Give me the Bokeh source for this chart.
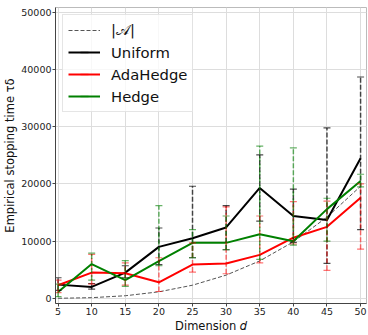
import math
from bokeh.plotting import figure
from bokeh.models import (ColumnDataSource, Whisker, TeeHead, Legend, LegendItem,
                          Range1d, FixedTicker, NumeralTickFormatter)
from bokeh.embed import file_html
from bokeh.resources import INLINE

# ---------------- data ----------------
dims = [5, 10, 15, 20, 25, 30, 35, 40, 45, 50]
card_A = [10, 120, 455, 1140, 2300, 4060, 6545, 9880, 14190, 19600]

uniform_mean = [2400, 2000, 4500, 9000, 10500, 12400, 19300, 14400, 13700, 24500]
uniform_lo   = [1400, 1600, 3600, 5900, 7100, 8500, 13500, 9800, 6100, 12000]
uniform_hi   = [3600, 2600, 5700, 12300, 19600, 16200, 25100, 19100, 29800, 38700]

adahedge_mean = [2300, 4500, 4400, 2800, 5900, 6100, 7600, 10600, 12500, 17600]
adahedge_lo   = [1000, 2500, 2300, 1200, 4600, 4300, 6200, 9500, 4900, 8600]
adahedge_hi   = [3200, 7700, 6200, 7100, 9700, 16000, 14400, 16900, 17000, 20000]

hedge_mean = [1100, 6000, 3200, 6500, 9700, 9700, 11200, 10000, 15600, 20500]
hedge_lo   = [300, 3200, 2100, 5700, 7100, 8500, 6800, 9300, 10000, 19500]
hedge_hi   = [2500, 7900, 6600, 16200, 12000, 14400, 26600, 26300, 17500, 21700]

x_ticks = [5, 10, 15, 20, 25, 30, 35, 40, 45, 50]
y_ticks = [0, 10000, 20000, 30000, 40000, 50000]

FONT = "DejaVu Sans"

p = figure(width=368, height=335, output_backend="svg", toolbar_location=None,
           x_range=Range1d(4.62, 50.88), y_range=Range1d(-900, 50850),
           min_border_left=52, min_border_right=2, min_border_top=7, min_border_bottom=23)

p.background_fill_color = "white"
p.border_fill_color = "white"
p.outline_line_color = "#bbbbbb"
p.outline_line_width = 1

p.xgrid.grid_line_color = "#dddddd"
p.ygrid.grid_line_color = "#dddddd"

p.xaxis.ticker = FixedTicker(ticks=x_ticks)
p.yaxis.ticker = FixedTicker(ticks=y_ticks)
p.yaxis.formatter = NumeralTickFormatter(format="0")
for ax in (p.xaxis[0], p.yaxis[0]):
    ax.axis_line_color = "#444444"
    ax.major_tick_line_color = "#444444"
    ax.major_tick_out = 3
    ax.major_tick_in = 0
    ax.minor_tick_line_color = None
    ax.major_label_text_font = FONT
    ax.major_label_text_font_size = "9.5px"
    ax.major_label_text_color = "#222222"
    ax.major_label_standoff = 1
    ax.axis_label_text_font = FONT
    ax.axis_label_text_font_size = "11.5px"
    ax.axis_label_text_font_style = "normal"
    ax.axis_label_text_color = "#111111"
    ax.axis_label_standoff = 1

p.xaxis.axis_label = "Dimension 𝑑"
p.yaxis.axis_label = "Empirical stopping time τδ"

src_u = ColumnDataSource(dict(x=dims, y=uniform_mean, lo=uniform_lo, hi=uniform_hi))
src_a = ColumnDataSource(dict(x=dims, y=adahedge_mean, lo=adahedge_lo, hi=adahedge_hi))
src_h = ColumnDataSource(dict(x=dims, y=hedge_mean, lo=hedge_lo, hi=hedge_hi))

r_card = p.line(dims, card_A, line_color="#555555", line_width=1, line_dash="4 2")

def add_series(src, color, err_alpha):
    w = Whisker(base="x", upper="hi", lower="lo", source=src, dimension="height",
                line_color=color, line_alpha=err_alpha, line_width=1.5, line_dash="5 2",
                upper_head=TeeHead(size=7, line_color=color, line_alpha=err_alpha, line_width=1.2),
                lower_head=TeeHead(size=7, line_color=color, line_alpha=err_alpha, line_width=1.2),
                level="glyph")
    p.add_layout(w)
    ln = p.line("x", "y", source=src, line_color=color, line_width=2)
    mk = p.scatter([float("nan")], [float("nan")], marker="dash", angle=math.pi / 2,
                   size=15, line_color=color, line_width=1.5, line_alpha=err_alpha)
    return ln, mk

r_u, m_u = add_series(src_u, "#000000", 0.7)
r_a, m_a = add_series(src_a, "#ff0000", 0.55)
r_h, m_h = add_series(src_h, "#008000", 0.6)

legend = Legend(items=[
    LegendItem(label="|𝒜|", renderers=[r_card]),
    LegendItem(label="Uniform", renderers=[r_u, m_u]),
    LegendItem(label="AdaHedge", renderers=[r_a, m_a]),
    LegendItem(label="Hedge", renderers=[r_h, m_h]),
], location="top_left")
legend.margin = 7
legend.padding = 5
legend.spacing = 2
legend.glyph_width = 32
legend.glyph_height = 20
legend.label_standoff = 11
legend.label_text_font = FONT
legend.label_text_font_size = "14.8px"
legend.label_text_color = "#111111"
legend.border_line_color = "#cccccc"
legend.background_fill_alpha = 0.8
p.add_layout(legend)

open("out.html", "w").write(file_html(p, INLINE))
